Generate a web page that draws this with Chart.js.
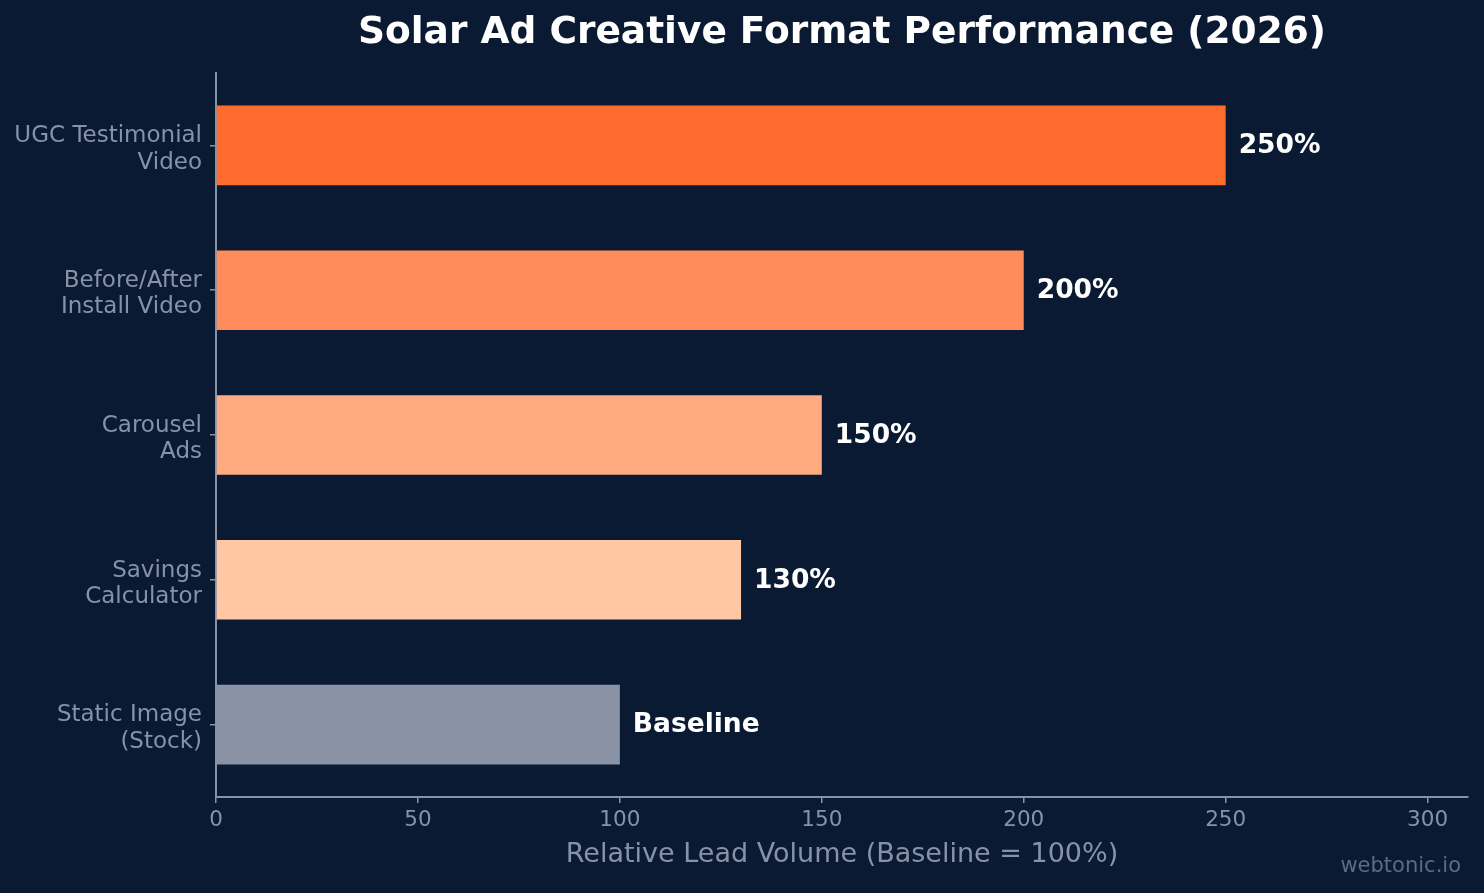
<!DOCTYPE html>
<html>
<head>
<meta charset="utf-8">
<script src="https://cdn.jsdelivr.net/npm/chart.js@4/dist/chart.umd.min.js"></script>
<style>
  html, body { margin: 0; padding: 0; background: #0b1a33; }
  #wrap { width: 1484px; height: 893px; position: relative; }
</style>
</head>
<body>
<div id="wrap"><canvas id="c" width="1484" height="893"></canvas></div>
<script>
const categories = [
  ["UGC Testimonial", "Video"],
  ["Before/After", "Install Video"],
  ["Carousel", "Ads"],
  ["Savings", "Calculator"],
  ["Static Image", "(Stock)"]
];
const leadVolume = [250, 200, 150, 130, 100];
const valueLabels = ["250%", "200%", "150%", "130%", "Baseline"];
const barColors = ["#ff6b2c", "#ff8c5a", "#ffab82", "#ffc7a4", "#8a93a6"];
const xTicks = [0, 50, 100, 150, 200, 250, 300];

const AXIS = "#8892a6";
const FONT = "'DejaVu Sans', sans-serif";

const overlay = {
  id: "overlay",
  afterDatasetsDraw(chart) {
    const ctx = chart.ctx;
    const meta = chart.getDatasetMeta(0);
    ctx.save();
    ctx.fillStyle = "#ffffff";
    ctx.font = "bold 26.5px " + FONT;
    ctx.textAlign = "left";
    ctx.textBaseline = "middle";
    meta.data.forEach((bar, i) => {
      ctx.fillText(valueLabels[i], bar.x + 13, bar.y + 1);
    });
    ctx.restore();
  },
  afterDraw(chart) {
    const ctx = chart.ctx;
    const a = chart.chartArea;
    ctx.save();
    ctx.fillStyle = "#ffffff";
    ctx.font = "bold 37.5px " + FONT;
    ctx.textAlign = "center";
    ctx.textBaseline = "alphabetic";
    ctx.fillText("Solar Ad Creative Format Performance (2026)", (a.left + a.right) / 2, 43);
    ctx.fillStyle = "#5d6a82";
    ctx.font = "21px " + FONT;
    ctx.textAlign = "right";
    ctx.textBaseline = "middle";
    ctx.fillText("webtonic.io", 1461, 867);
    ctx.restore();
  }
};

new Chart(document.getElementById("c"), {
  type: "bar",
  data: {
    labels: categories,
    datasets: [{
      data: leadVolume,
      backgroundColor: barColors,
      borderWidth: 0,
      barPercentage: 0.55,
      categoryPercentage: 1.0
    }]
  },
  options: {
    indexAxis: "y",
    responsive: false,
    animation: false,
    layout: { padding: { left: 0, right: 16, top: 73, bottom: 0 } },
    plugins: { legend: { display: false }, tooltip: { enabled: false }, title: { display: false } },
    scales: {
      x: {
        type: "linear",
        min: 0,
        max: 310,
        afterBuildTicks(scale) { scale.ticks = xTicks.map(v => ({ value: v })); },
        afterFit(scale) { scale.height = 96; },
        border: { display: true, color: AXIS, width: 2 },
        grid: { drawOnChartArea: false, drawTicks: true, tickLength: 6, color: AXIS, lineWidth: 1.5 },
        ticks: { color: AXIS, font: { family: FONT, size: 21.5 }, padding: 5 },
        title: {
          display: true,
          text: "Relative Lead Volume (Baseline = 100%)",
          color: AXIS,
          font: { family: FONT, size: 27 },
          padding: { top: 0, bottom: 22 }
        }
      },
      y: {
        afterFit(scale) { scale.width = 216; },
        border: { display: true, color: AXIS, width: 2 },
        grid: { offset: false, drawOnChartArea: false, drawTicks: true, tickLength: 6, color: AXIS, lineWidth: 1.5 },
        ticks: { color: AXIS, font: { family: FONT, size: 23, lineHeight: 1.15 }, padding: 8, labelOffset: 4 }
      }
    }
  },
  plugins: [overlay]
});
</script>
</body>
</html>
